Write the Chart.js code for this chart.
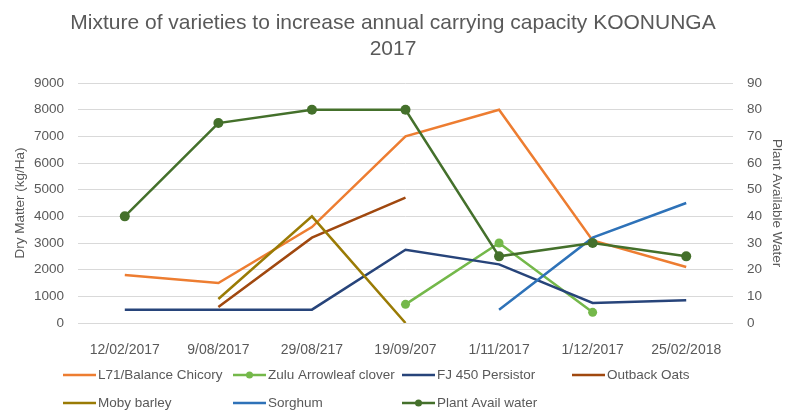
<!DOCTYPE html>
<html>
<head>
<meta charset="utf-8">
<script src="https://cdn.jsdelivr.net/npm/chart.js@4/dist/chart.umd.min.js"></script>
<style>
  html, body { margin: 0; padding: 0; background: #ffffff; }
  #wrap { position: relative; width: 786px; height: 410px; }
</style>
</head>
<body>
<div id="wrap"><canvas id="c" width="786" height="410"></canvas></div>
<script>
const categories = ["12/02/2017", "9/08/2017", "29/08/217", "19/09/207", "1/11/2017", "1/12/2017", "25/02/2018"];
const chicory   = [1800, 1500, 3600, 7000, 8000, 3100, 2100];
const zulu      = [null, null, null, 700, 3000, 400, null];
const fj450     = [500, 500, 500, 2750, 2200, 750, 850];
const oats      = [null, 600, 3200, 4700, null, null, null];
const moby      = [null, 900, 4000, 0, null, null, null];
const sorghum   = [null, null, null, null, 500, 3200, 4500];
const water     = [40, 75, 80, 80, 25, 30, 25];
const seriesNames = ["L71/Balance Chicory", "Zulu Arrowleaf clover", "FJ 450 Persistor", "Outback Oats", "Moby barley", "Sorghum", "Plant Avail water"];
const titleLines = ["Mixture of varieties to increase annual carrying capacity KOONUNGA", "2017"];
const leftTitle = "Dry Matter (kg/Ha)";
const rightTitle = "Plant Available Water";

const FONT = "'Liberation Sans', Arial, sans-serif";
const TEXT = "#595959";

function ds(label, data, color, axis, markers, radius) {
  return {
    label: label, data: data, borderColor: color, backgroundColor: color,
    borderWidth: 2.5, yAxisID: axis, tension: 0, spanGaps: false,
    pointRadius: markers ? radius : 0, pointHoverRadius: markers ? radius : 0,
    pointBackgroundColor: color, pointBorderColor: color, pointBorderWidth: 0,
    _marker: markers, _radius: radius
  };
}

const datasets = [
  ds(seriesNames[0], chicory, "#ED7D31", "y", false, 0),
  ds(seriesNames[1], zulu, "#74B84A", "y", true, 4.5),
  ds(seriesNames[2], fj450, "#27447A", "y", false, 0),
  ds(seriesNames[3], oats, "#A0480F", "y", false, 0),
  ds(seriesNames[4], moby, "#9A7B05", "y", false, 0),
  ds(seriesNames[5], sorghum, "#2E72B8", "y", false, 0),
  ds(seriesNames[6], water, "#44702B", "y1", true, 5)
];
datasets.forEach((d, i) => { d.order = datasets.length - 1 - i; });

const legendPlugin = {
  id: 'customLegend',
  afterDraw(chart) {
    const ctx = chart.ctx;
    const dsets = chart.data.datasets;
    const colX = [63, 233, 402, 572];
    const rowY = [375, 403];
    const layout = [[0,0],[0,1],[0,2],[0,3],[1,0],[1,1],[1,2]];
    ctx.save();
    ctx.font = "13.5px " + FONT;
    ctx.textBaseline = "middle";
    ctx.textAlign = "left";
    dsets.forEach((d, i) => {
      const x = colX[layout[i][1]];
      const y = rowY[layout[i][0]];
      ctx.strokeStyle = d.borderColor;
      ctx.lineWidth = 2.5;
      ctx.beginPath();
      ctx.moveTo(x, y);
      ctx.lineTo(x + 33, y);
      ctx.stroke();
      if (d._marker) {
        ctx.fillStyle = d.borderColor;
        ctx.beginPath();
        ctx.arc(x + 16.5, y, 3.5, 0, Math.PI * 2);
        ctx.fill();
      }
      ctx.fillStyle = TEXT;
      ctx.fillText(d.label, x + 35, y);
    });
    ctx.restore();
  }
};

const bgPlugin = {
  id: 'bg',
  beforeDraw(chart) {
    const ctx = chart.ctx;
    ctx.save();
    ctx.fillStyle = '#ffffff';
    ctx.fillRect(0, 0, chart.width, chart.height);
    ctx.restore();
  }
};

const plainTick = (v) => String(v);

new Chart(document.getElementById('c'), {
  type: 'line',
  data: { labels: categories, datasets: datasets },
  plugins: [bgPlugin, legendPlugin],
  options: {
    responsive: false,
    animation: false,
    devicePixelRatio: 1,
    layout: { padding: { left: 0, right: 0, top: 0, bottom: 0 } },
    plugins: {
      legend: { display: false },
      tooltip: { enabled: false },
      title: {
        display: true,
        text: titleLines,
        color: TEXT,
        font: { family: FONT, size: 21, weight: 'normal', lineHeight: 1.24 },
        padding: { top: 10, bottom: 21 }
      }
    },
    scales: {
      x: {
        offset: true,
        grid: { display: false },
        border: { display: false },
        ticks: { color: TEXT, font: { family: FONT, size: 14 }, padding: 11, maxRotation: 0, autoSkip: false },
        afterFit(s) { s.height = 87; }
      },
      y: {
        position: 'left',
        min: 0, max: 9000,
        ticks: { stepSize: 1000, color: TEXT, font: { family: FONT, size: 13.5 }, padding: 14, callback: plainTick },
        grid: { color: '#d9d9d9', lineWidth: 1, drawTicks: false },
        border: { display: false },
        title: { display: true, text: leftTitle, color: TEXT, font: { family: FONT, size: 13.5 }, padding: { top: 12, bottom: 0 } },
        afterFit(s) { s.width = 78; }
      },
      y1: {
        position: 'right',
        min: 0, max: 90,
        ticks: { stepSize: 10, color: TEXT, font: { family: FONT, size: 13.5 }, padding: 14, callback: plainTick },
        grid: { display: false, drawTicks: false },
        border: { display: false },
        title: { display: true, text: rightTitle, color: TEXT, font: { family: FONT, size: 13.5 }, padding: { top: 1, bottom: 0 } },
        afterFit(s) { s.width = 53; }
      }
    }
  }
});
</script>
</body>
</html>
